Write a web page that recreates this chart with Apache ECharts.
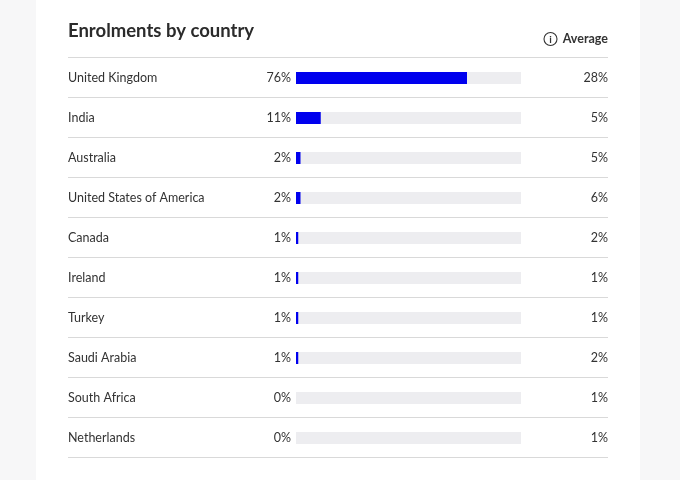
<!DOCTYPE html>
<html>
<head>
<meta charset="utf-8">
<script src="https://cdn.jsdelivr.net/npm/echarts@6/dist/echarts.min.js"></script>
<style>
  html, body { margin: 0; padding: 0; background: #f7f7f8; }
  #card { position: absolute; left: 36px; top: 0; width: 604px; height: 480px; background: #ffffff; }
  #main { position: absolute; left: 0; top: 0; width: 680px; height: 480px; }
</style>
</head>
<body>
<div id="card"></div>
<div id="main"></div>
<script>
// data
var countries = ['United Kingdom', 'India', 'Australia', 'United States of America', 'Canada',
                 'Ireland', 'Turkey', 'Saudi Arabia', 'South Africa', 'Netherlands'];
var share = [76, 11, 2, 2, 1, 1, 1, 1, 0, 0];
var average = [28, 5, 5, 6, 2, 1, 1, 2, 1, 1];
var full = countries.map(function () { return 100; });

var font = 'Lato';
var textColor = '#333333';

var chart = echarts.init(document.getElementById('main'), null, { renderer: 'canvas' });

var option = {
    backgroundColor: 'transparent',
    animation: false,
    textStyle: { fontFamily: font },
    title: {
        text: 'Enrolments by country',
        left: 63,
        top: 17,
        textStyle: { fontFamily: font, fontSize: 18.5, fontWeight: 'bold', color: '#2b2b2b' }
    },
    graphic: [
        {
            type: 'circle',
            shape: { cx: 550.5, cy: 39, r: 6.5 },
            style: { fill: 'none', stroke: '#333', lineWidth: 1.1 }
        },
        {
            type: 'text',
            x: 550.5, y: 39.5,
            style: { text: 'i', fontFamily: font, fontSize: 10, fontWeight: 'bold', fill: '#333', align: 'center', verticalAlign: 'middle' }
        },
        {
            type: 'text',
            x: 608, y: 39,
            style: { text: 'Average', fontFamily: font, fontSize: 12.5, fontWeight: 'bold', fill: '#333', align: 'right', verticalAlign: 'middle' }
        }
    ],
    grid: [
        // row separators
        { left: 68, right: 72, top: 57, height: 400 },
        // bars
        { left: 296, right: 159, top: 58, height: 400 }
    ],
    xAxis: [
        { gridIndex: 0, type: 'value', show: false, min: 0, max: 100 },
        { gridIndex: 1, type: 'value', show: false, min: 0, max: 100 }
    ],
    yAxis: [
        {
            gridIndex: 0, type: 'category', inverse: true, data: countries,
            axisLine: { show: false }, axisTick: { show: false }, axisLabel: { show: false },
            splitLine: { show: true, lineStyle: { color: '#d9d9d9', width: 1 } }
        },
        {
            gridIndex: 1, type: 'category', inverse: true, data: countries,
            axisLine: { show: false }, axisTick: { show: false }, splitLine: { show: false },
            axisLabel: { align: 'left', margin: 228, color: textColor, fontSize: 12.5, fontFamily: font }
        },
        {
            gridIndex: 1, type: 'category', inverse: true, position: 'right',
            data: average.map(function (v) { return v + '%'; }),
            axisLine: { show: false }, axisTick: { show: false }, splitLine: { show: false },
            axisLabel: { align: 'right', margin: 87, color: textColor, fontSize: 12.5, fontFamily: font }
        }
    ],
    series: [
        {
            name: 'track',
            type: 'bar',
            xAxisIndex: 1, yAxisIndex: 1,
            data: full,
            barWidth: 12,
            silent: true,
            itemStyle: { color: '#ededf0' }
        },
        {
            name: 'share',
            type: 'bar',
            xAxisIndex: 1, yAxisIndex: 1,
            data: share,
            barWidth: 12,
            barGap: '-100%',
            itemStyle: { color: '#0000ee' },
            label: {
                show: true,
                position: 'left',
                distance: 5,
                formatter: '{c}%',
                color: textColor,
                fontSize: 12.5,
                fontFamily: font
            }
        }
    ]
};

chart.setOption(option);
</script>
</body>
</html>
